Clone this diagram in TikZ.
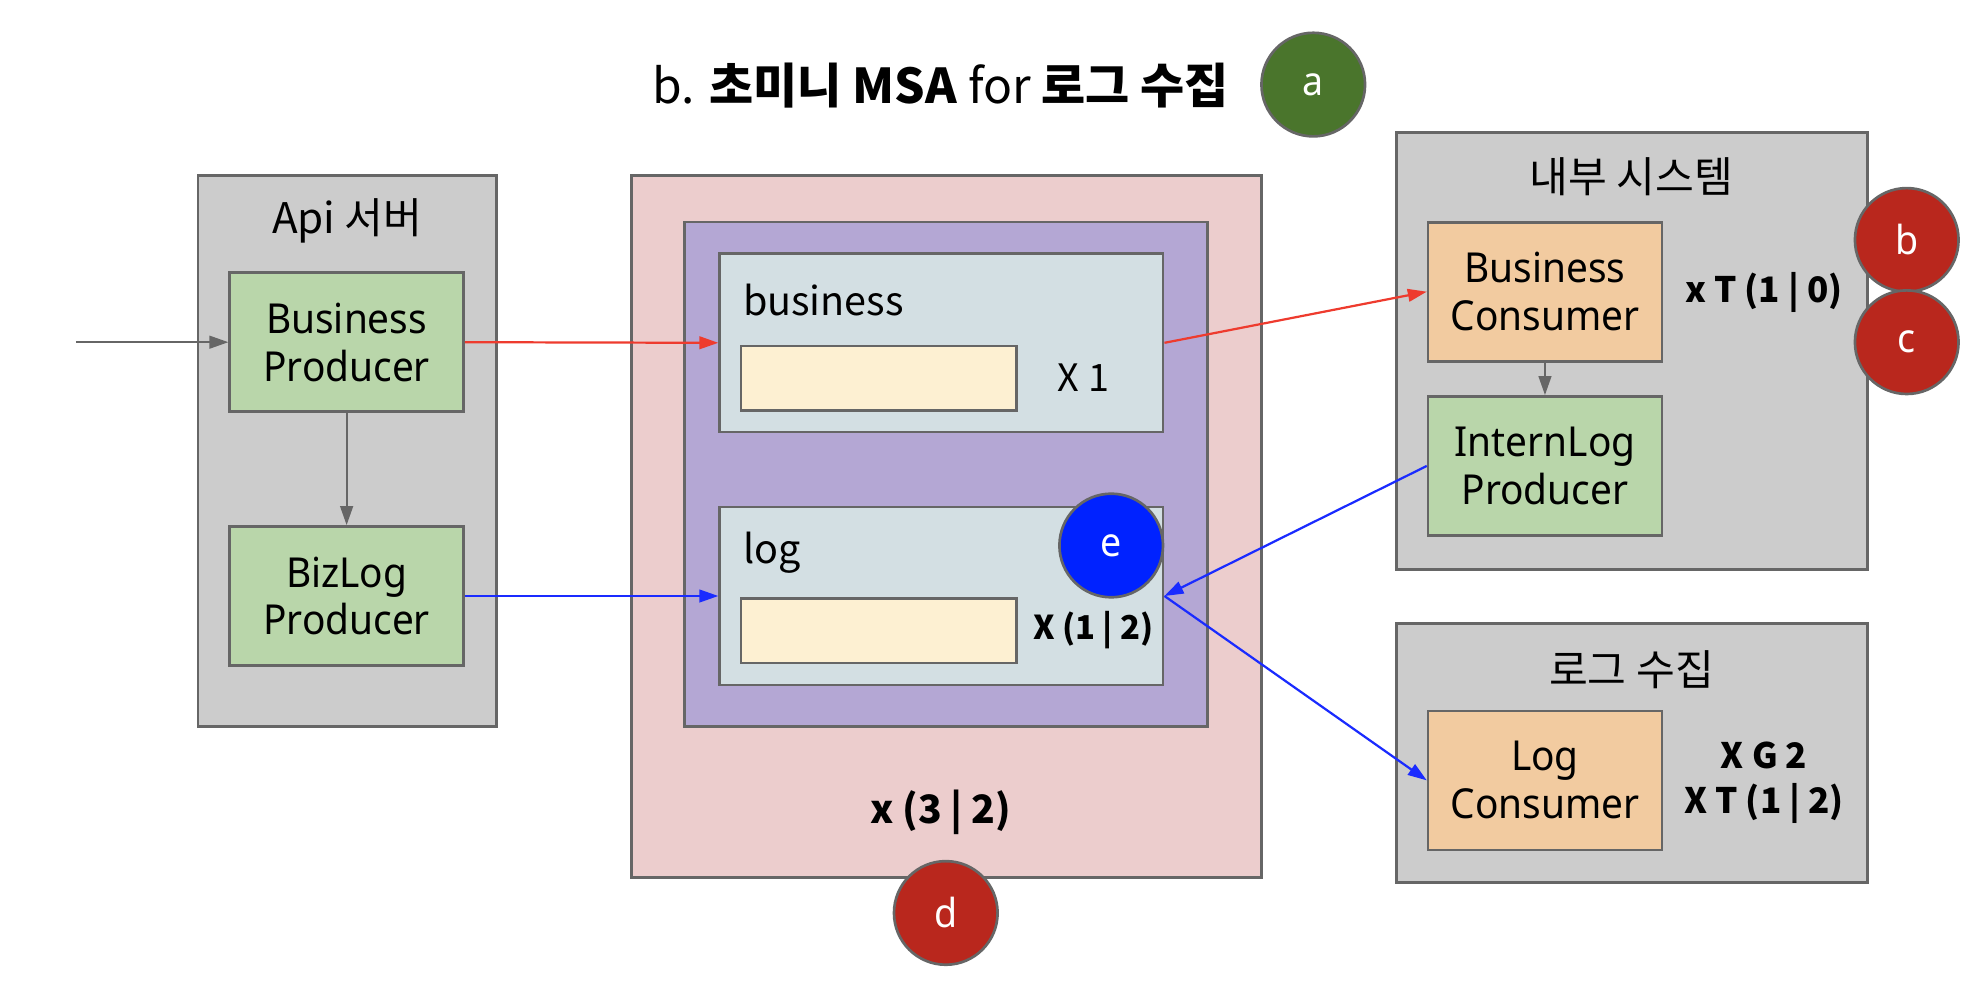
\documentclass[tikz,border=0pt]{standalone}
\usepackage{fontspec}
\setmainfont{Noto Sans}[FakeStretch=0.94]
\newfontfamily\kr{Noto Sans CJK KR}
\usetikzlibrary{arrows.meta}
\definecolor{linegray}{HTML}{666666}
\definecolor{groupgray}{HTML}{CCCCCC}
\definecolor{prodgreen}{HTML}{B9D6AA}
\definecolor{consorange}{HTML}{F2CBA0}
\definecolor{midpink}{HTML}{ECCDCD}
\definecolor{brokerpurple}{HTML}{B4A7D4}
\definecolor{queuecyan}{HTML}{D3DFE3}
\definecolor{bufyellow}{HTML}{FDF0D2}
\definecolor{badgegreen}{HTML}{4A752C}
\definecolor{badgered}{HTML}{B9271D}
\definecolor{badgeblue}{HTML}{0022FF}
\definecolor{flowred}{HTML}{EE3B2E}
\definecolor{flowblue}{HTML}{1A2BFF}
\tikzset{
  box/.style={draw=linegray, line width=0.6pt, rectangle, inner sep=0pt},
  group/.style={box, fill=groupgray},
  prod/.style={box, fill=prodgreen, minimum width=1.85cm, minimum height=1.1cm,
    align=center, font=\fontsize{9.3}{10.8}\selectfont},
  cons/.style={prod, fill=consorange},
  queue/.style={box, fill=queuecyan, minimum width=3.51cm, minimum height=1.41cm},
  buf/.style={box, fill=bufyellow, minimum width=2.18cm, minimum height=0.51cm},
  badge/.style={circle, draw=linegray, line width=0.6pt, minimum size=0.82cm,
    inner sep=0pt, text=white, font=\fontsize{9}{10}\selectfont},
  note/.style={font=\kr\bfseries\fontsize{7.9}{10}\selectfont, align=center},
  label/.style={font=\kr\fontsize{9.5}{11}\selectfont},
  flow/.style={-{Triangle[length=0.15cm,width=0.1cm]}, line width=0.5pt}
}
\begin{document}
\begin{tikzpicture}[x=0.01cm,y=-0.01cm]
  \useasboundingbox (0,0) rectangle (1568,789);
  \node[font=\kr\fontsize{10.8}{13}\selectfont] (title) at (745,68)
    {b. \textbf{초미니 MSA} for \textbf{로그 수집}};

  \node[group, minimum width=2.36cm, minimum height=4.36cm] (api) at (275,357) {};
  \node[label] (apilbl) at (275,175) {Api 서버};
  \node[prod] (bp) at (274.5,271) {Business\\Producer};
  \node[prod] (blp) at (274.5,472) {BizLog\\Producer};

  \node[box, fill=midpink, minimum width=4.99cm, minimum height=5.56cm] (mid) at (749.5,417) {};
  \node[box, fill=brokerpurple, minimum width=4.14cm, minimum height=3.99cm] (broker) at (749,375.5) {};
  \node[queue] (bizq) at (745.5,271.5) {};
  \node[queue] (logq) at (745.5,472) {};
  \node[buf] (bizbuf) at (696,299.5) {};
  \node[buf] (logbuf) at (696,499.5) {};
  \node[label, anchor=west, font=\kr\fontsize{8.9}{11}\selectfont] (bizlbl) at (576,238) {business};
  \node[label, anchor=west, font=\kr\fontsize{8.9}{11}\selectfont] (loglbl) at (576,438) {log};
  \node[font=\kr\fontsize{8.5}{10}\selectfont] (bizx) at (858,299) {X 1};
  \node[note, font=\kr\bfseries\fontsize{7.4}{10}\selectfont] (logx) at (866,499) {X (1 | 2)};
  \node[note, font=\kr\bfseries\fontsize{8.8}{11}\selectfont] (midx) at (745,643) {x (3 | 2)};

  \node[group, minimum width=3.73cm, minimum height=3.46cm] (intern) at (1292.5,278) {};
  \node[label] (internlbl) at (1292,140) {내부 시스템};
  \node[cons] (bc) at (1223.5,231) {Business\\Consumer};
  \node[prod] (ilp) at (1223.5,369) {InternLog\\Producer};
  \node[note] (internx) at (1397,232) {x T (1 | 0)};

  \node[group, minimum width=3.73cm, minimum height=2.05cm] (collect) at (1292.5,596.5) {};
  \node[label] (collectlbl) at (1292,530) {로그 수집};
  \node[cons] (lc) at (1223.5,618) {Log\\Consumer};
  \node[note] (collectx) at (1397,620) {X G 2\\X T (1 | 2)};

  \coordinate (src) at (60,271);
  \draw[flow, linegray] (src) -- (bp);
  \draw[flow, linegray] (bp) -- (blp);
  \draw[flow, linegray] (bc) -- (ilp);
  \draw[flow, flowred] (bp.east) -- (bizq.west);
  \draw[flow, flowred] (bizq.east) -- (bc.west);
  \draw[flow, flowblue] (blp.east) -- (logq.west);
  \draw[flow, flowblue] (ilp.west) -- (logq.east);
  \draw[flow, flowblue] (logq.east) -- (lc.west);

  \node[badge, fill=badgegreen] (a) at (1040,67) {a};
  \node[badge, fill=badgered] (b) at (1510,190) {b};
  \node[badge, fill=badgered] (c) at (1510,271) {c};
  \node[badge, fill=badgered] (d) at (749,723) {d};
  \node[badge, fill=badgeblue] (e) at (880,432) {e};
\end{tikzpicture}
\end{document}
